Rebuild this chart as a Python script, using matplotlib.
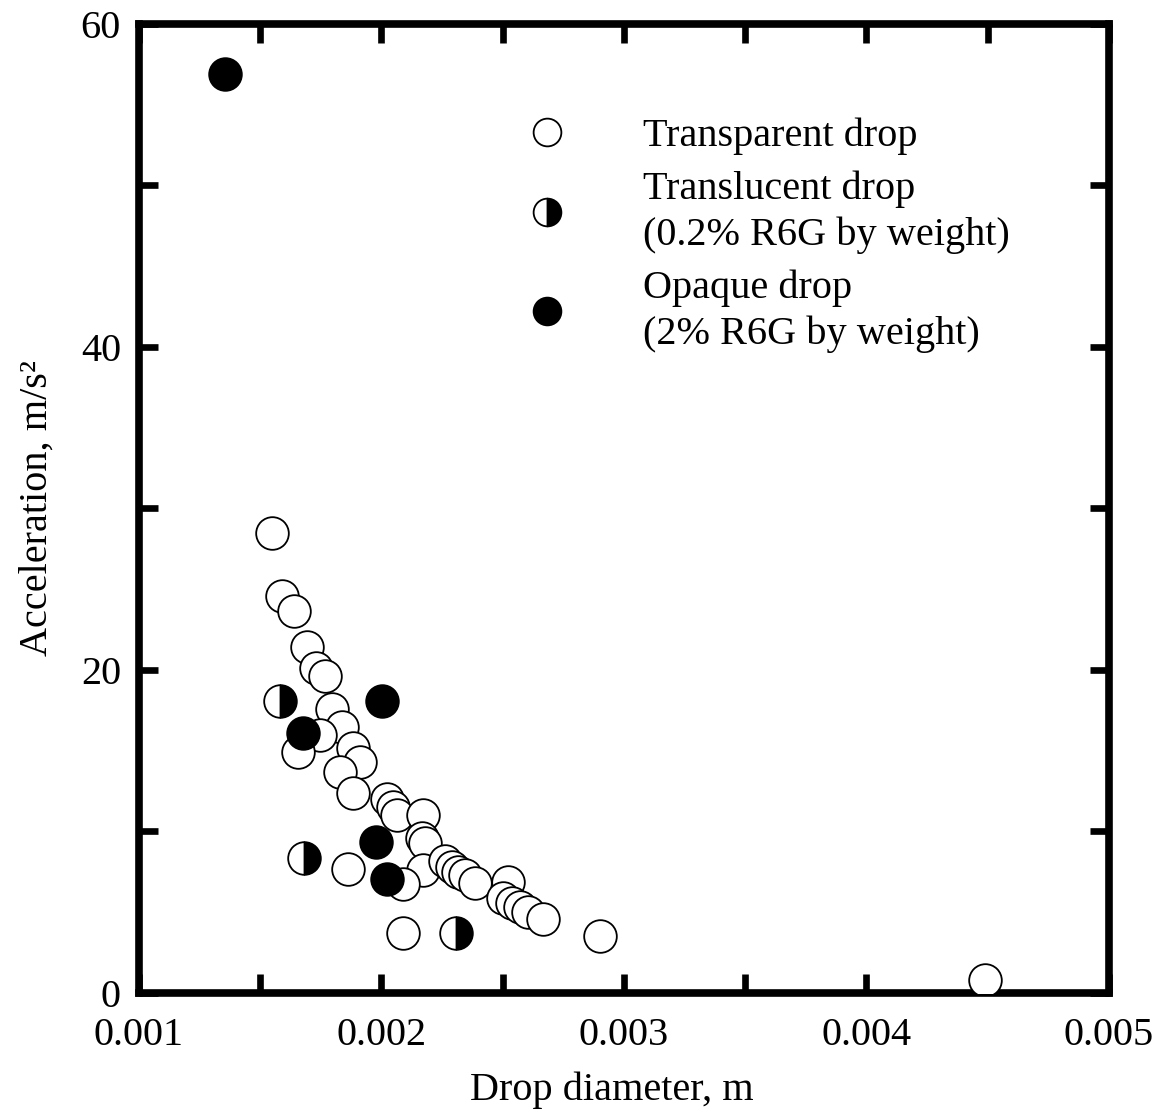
import matplotlib
matplotlib.use("Agg")
import matplotlib.pyplot as plt
from matplotlib.ticker import MultipleLocator, FormatStrFormatter

# transparent drops (open circles)
clear_d = [0.001547, 0.001588, 0.00164, 0.001691, 0.00173, 0.001767, 0.001795,
           0.001836, 0.001746, 0.001657, 0.001884, 0.001911, 0.001829, 0.001884,
           0.002021, 0.002049, 0.002062, 0.002172, 0.002166, 0.002178, 0.002172,
           0.001863, 0.00209, 0.002262, 0.00229, 0.002315, 0.002344, 0.002386,
           0.002522, 0.002501, 0.002538, 0.002571, 0.002604, 0.002666, 0.002087,
           0.0029, 0.004489]
clear_a = [28.5, 24.6, 23.65, 21.4, 20.1, 19.6, 17.6,
           16.5, 16.0, 14.9, 15.2, 14.3, 13.7, 12.4,
           12.0, 11.5, 11.0, 11.0, 9.6, 9.3, 7.6,
           7.7, 6.75, 8.2, 7.8, 7.5, 7.3, 6.8,
           6.9, 5.9, 5.6, 5.3, 5.0, 4.6, 3.7,
           3.5, 0.8]

# translucent drops (half filled)
half_d = [0.001581, 0.001682, 0.002307]
half_a = [18.1, 8.35, 3.7]

# opaque drops (filled)
dark_d = [0.001355, 0.002001, 0.001675, 0.001977, 0.002021]
dark_a = [56.9, 18.1, 16.1, 9.35, 7.05]

plt.rcParams["font.family"] = ["Liberation Serif", "DejaVu Serif"]
fs = 29

fig = plt.figure(figsize=(11.6, 11.2), dpi=100)
ax = fig.add_axes([0.1198, 0.1134, 0.8362, 0.8652])

ms = 23.5
h1, = ax.plot(clear_d, clear_a, "o", ms=ms, mfc="white", mec="black", mew=1.3,
              ls="none", label="Transparent drop", zorder=3)
h2, = ax.plot(half_d, half_a, "o", ms=ms, fillstyle="right", mfc="black",
              mfcalt="white", mec="black", mew=1.3, ls="none",
              label="Translucent drop\n(0.2% R6G by weight)", zorder=4)
h3, = ax.plot(dark_d, dark_a, "o", ms=ms, mfc="black", mec="black", mew=1.3,
              ls="none", label="Opaque drop\n(2% R6G by weight)", zorder=4)

ax.set_xlim(0.001, 0.005)
ax.set_ylim(0, 60)
ax.xaxis.set_major_locator(MultipleLocator(0.001))
ax.xaxis.set_minor_locator(MultipleLocator(0.0005))
ax.xaxis.set_major_formatter(FormatStrFormatter("%.3f"))
ax.yaxis.set_major_locator(MultipleLocator(20))
ax.yaxis.set_minor_locator(MultipleLocator(10))

for s in ax.spines.values():
    s.set_linewidth(5.5)
ax.tick_params(which="both", direction="in", top=True, right=True,
               length=14, width=4.8, labelsize=fs, pad=13)
ax.tick_params(axis="x", which="both", pad=17)

ax.set_xlabel("Drop diameter, m", fontsize=fs)
ax.set_ylabel("Acceleration, m/s²", fontsize=fs, labelpad=18)
ax.xaxis.set_label_coords(0.487, -0.081)

leg = ax.legend(handles=[h1, h2, h3], loc="upper left",
                bbox_to_anchor=(0.3625, 0.941), frameon=False, fontsize=fs,
                markerscale=0.85, handletextpad=1.88, labelspacing=0.38,
                handlelength=1.0)
for t in leg.get_texts():
    t.set_linespacing(1.3)

fig.savefig("out.png", dpi=100)
